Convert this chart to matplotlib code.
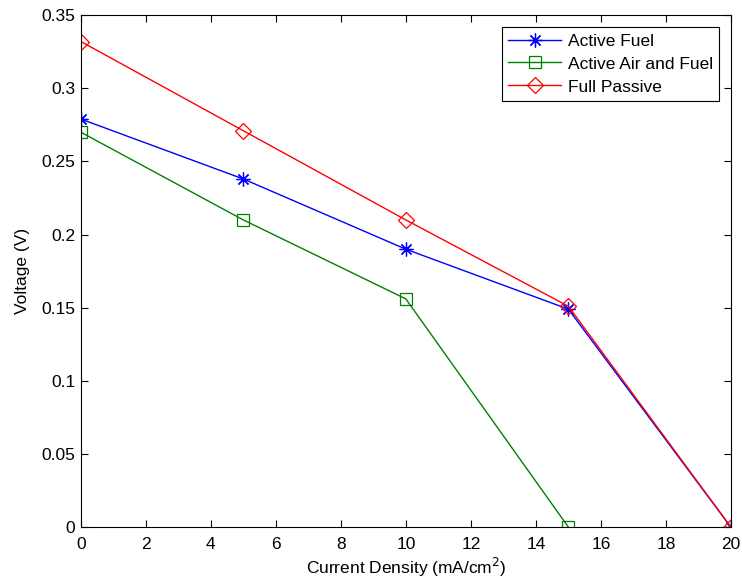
import matplotlib
matplotlib.use("Agg")
import matplotlib.pyplot as plt

plt.rcParams["font.family"] = ["Liberation Sans", "DejaVu Sans"]

current_fuel = [0, 5, 10, 15, 20]
voltage_fuel = [0.279, 0.238, 0.190, 0.149, 0.0]

current_air_fuel = [0, 5, 10, 15]
voltage_air_fuel = [0.270, 0.210, 0.156, 0.0]

current_passive = [0, 5, 10, 15, 20]
voltage_passive = [0.332, 0.271, 0.210, 0.151, 0.0]

xticks = list(range(0, 21, 2))
yticks = [0, 0.05, 0.1, 0.15, 0.2, 0.25, 0.3, 0.35]
ytick_labels = ["0", "0.05", "0.1", "0.15", "0.2", "0.25", "0.3", "0.35"]

fig = plt.figure(figsize=(7.42, 5.85), dpi=100)
ax = fig.add_axes([0.109, 0.099, 0.876, 0.875])

# asterisk marker like matlab's '*'
ax.plot(current_fuel, voltage_fuel, color="blue", marker=(8, 2, 0), markersize=10,
        markeredgewidth=0.9, linewidth=1.0, label="Active Fuel")
ax.plot(current_air_fuel, voltage_air_fuel, color=(0, 0.5, 0), marker="s", markersize=8,
        markerfacecolor="none", markeredgewidth=0.9, linewidth=1.0, label="Active Air and Fuel")
ax.plot(current_passive, voltage_passive, color="red", marker="D", markersize=8.5,
        markerfacecolor="none", markeredgewidth=0.9, linewidth=1.0, label="Full Passive")

ax.set_xlim(0, 20)
ax.set_ylim(0, 0.35)
ax.set_xticks(xticks)
ax.set_yticks(yticks)
ax.set_yticklabels(ytick_labels)
ax.tick_params(direction="in", top=True, right=True, labelsize=12.5, length=5, width=0.8, pad=4)
ax.tick_params(axis="x", pad=7)
for spine in ax.spines.values():
    spine.set_linewidth(0.8)

ax.set_xlabel("Current Density (mA/cm$^2$)", fontsize=12.5, labelpad=3)
ax.set_ylabel("Voltage (V)", fontsize=12.5, labelpad=8)

leg = ax.legend(loc="upper right", fontsize=12.5, fancybox=False, framealpha=1,
                edgecolor="black", borderaxespad=0.7, handlelength=3.0,
                labelspacing=0.45, borderpad=0.35, handletextpad=0.4)
leg.get_frame().set_linewidth(0.8)

fig.savefig("out.png", dpi=100)
